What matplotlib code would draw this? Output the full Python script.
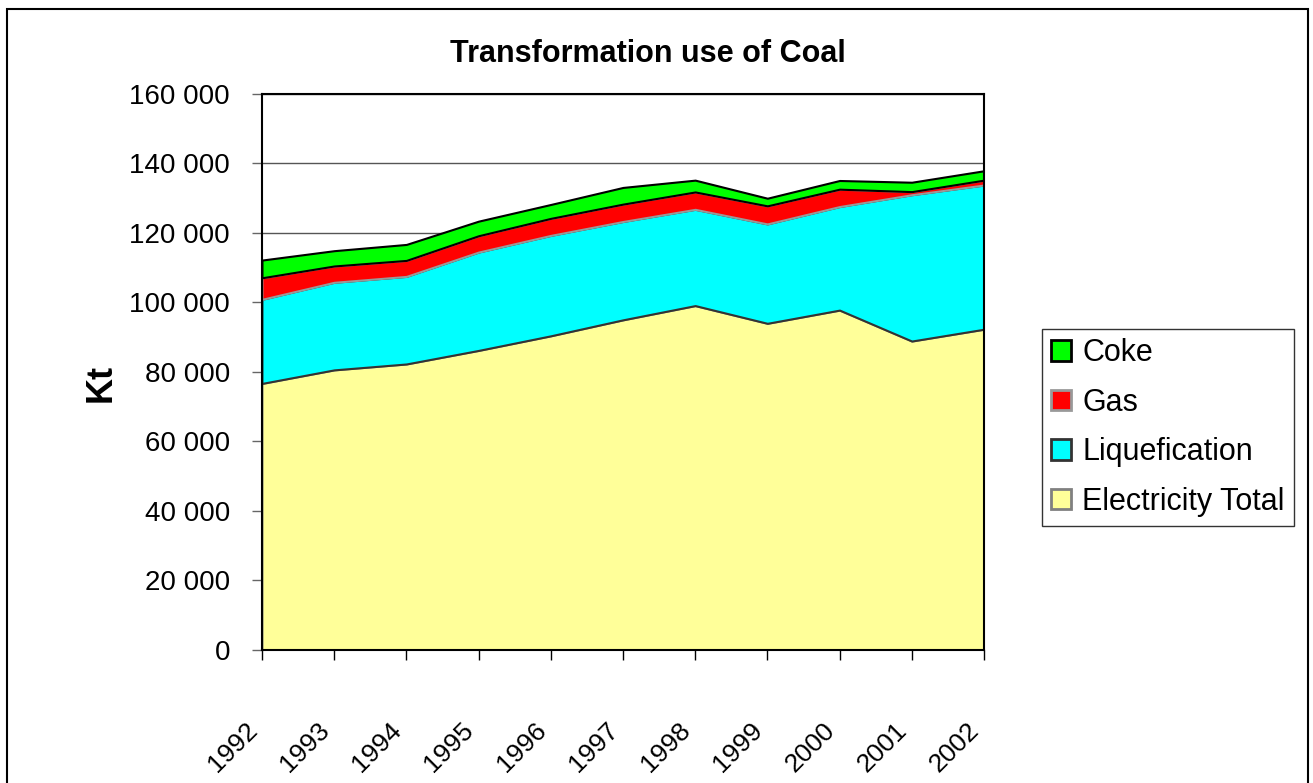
import numpy as np
import matplotlib.pyplot as plt
from matplotlib.patches import Rectangle, Patch

plt.rcParams['font.family'] = ['Liberation Sans', 'DejaVu Sans']

years = ['1992', '1993', '1994', '1995', '1996', '1997', '1998', '1999', '2000', '2001', '2002']
electricity = [76700, 80600, 82300, 86200, 90400, 95000, 99100, 94000, 97800, 88900, 92300]
liquefication = [24200, 25200, 25200, 28300, 28900, 28300, 27700, 28600, 29800, 42100, 41500]
gas = [6200, 4700, 4600, 4700, 4900, 5000, 5000, 5200, 5000, 900, 1400]
coke = [5100, 4400, 4600, 4200, 4000, 4800, 3400, 2200, 2500, 2700, 2700]

series = [
    ('Electricity Total', electricity, '#FFFF99', '#808080'),
    ('Liquefication', liquefication, '#00FFFF', '#333333'),
    ('Gas', gas, '#FF0000', '#999999'),
    ('Coke', coke, '#00FF00', '#000000'),
]

fig = plt.figure(figsize=(13.13, 7.83), dpi=100)
ax = fig.add_axes([0.1995, 0.1699, 0.5499, 0.7101])

x = np.arange(len(years))
bottom = np.zeros(len(years))
handles = []
for name, vals, fc, ec in series:
    top = bottom + np.array(vals)
    ax.fill_between(x, bottom, top, facecolor=fc, edgecolor=ec, linewidth=1.5, zorder=2)
    handles.append(Patch(facecolor=fc, edgecolor=ec, linewidth=2, label=name))
    bottom = top

ax.set_xlim(0, len(years) - 1)
ax.set_ylim(0, 160000)
ax.set_yticks(np.arange(0, 160001, 20000))
ax.set_yticklabels(['{:,}'.format(v).replace(',', ' ') for v in range(0, 160001, 20000)])
ax.set_xticks(x)
ax.set_xticklabels(years, rotation=45, ha='right', va='top')
ax.yaxis.grid(True, color='#555555', linewidth=1, zorder=0)
ax.set_axisbelow(True)

ax.tick_params(axis='y', direction='out', length=7, width=1, labelsize=20, pad=16, color='#666666')
ax.tick_params(axis='x', direction='out', length=7, width=1, labelsize=19, pad=42)
for s in ax.spines.values():
    s.set_linewidth(1.5)
    s.set_color('black')

# title and axis label placed like the original sheet
fig.text(648 / 1313, 1 - 62 / 783, 'Transformation use of Coal', fontsize=22, fontweight='bold',
         ha='center', va='baseline')
fig.text(101 / 1313, 1 - 383 / 783, 'Kt', fontsize=26, fontweight='bold', rotation=90,
         ha='center', va='center')

leg = fig.legend(handles=handles[::-1], loc='upper left', bbox_to_anchor=(1042 / 1313, 1 - 329 / 783),
                 fontsize=22, frameon=True, fancybox=False, borderpad=0.3, labelspacing=0.64,
                 handlelength=0.66, handleheight=0.66, handletextpad=0.35, borderaxespad=0)
leg.get_frame().set_edgecolor('black')
leg.get_frame().set_linewidth(1)

# outer chart border
fig.patches.append(Rectangle((7 / 1313, -0.02), 1301 / 1313, 1.02 - 9 / 783, transform=fig.transFigure,
                             fill=False, edgecolor='black', linewidth=1.5))

plt.savefig('out.png', dpi=100)
